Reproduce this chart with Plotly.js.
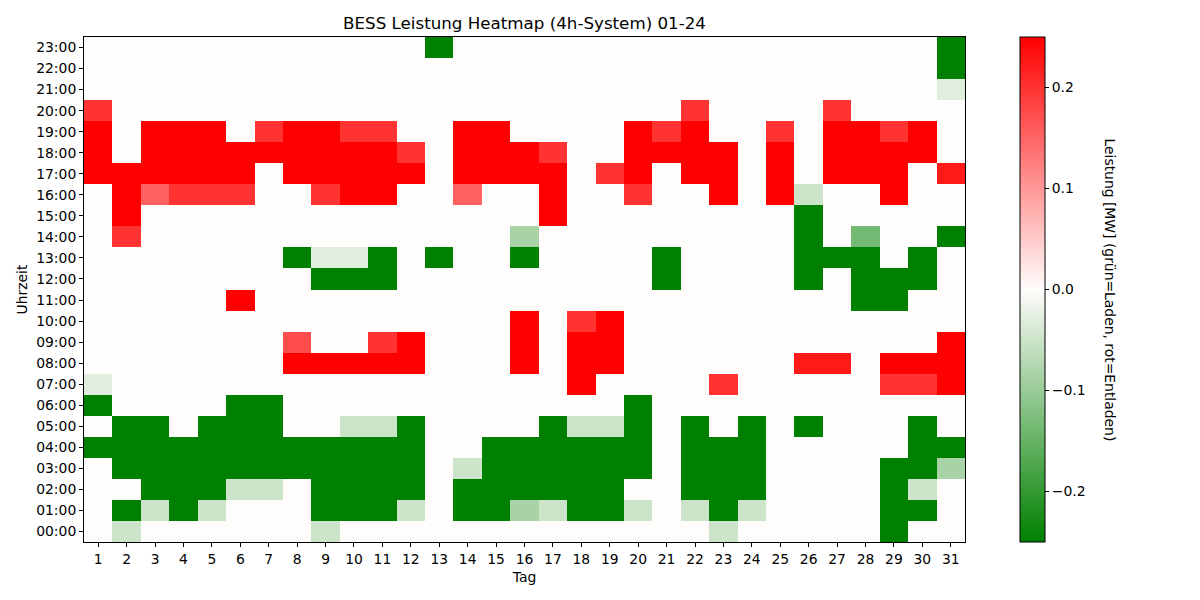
<!DOCTYPE html>
<html>
<head>
<meta charset="utf-8">
<script src="https://cdn.plot.ly/plotly-3.0.1.min.js"></script>
<style>
  html, body { margin: 0; padding: 0; background: #fff; }
  #chart { width: 1200px; height: 600px; }
</style>
</head>
<body>
<div id="chart"></div>
<script>
// Tage 1..31 und Stunden 00:00..23:00
const tage = [...Array(31).keys()].map(i => i + 1);
const stunden = [...Array(24).keys()];
const stundenLabels = stunden.map(h => String(h).padStart(2, '0') + ':00');

// Leistung [MW] je Stunde (Zeile) und Tag (Spalte), abgelesen
// positiv = Entladen (rot), negativ = Laden (grün)
const h00 = [0,-0.05,0,0,0,0,0,0,-0.05,0,0,0,0,0,0,0,0,0,0,0,0,0,-0.05,0,0,0,0,0,-0.25,0,0];
const h01 = [0,-0.25,-0.05,-0.25,-0.05,0,0,0,-0.25,-0.25,-0.25,-0.05,0,-0.25,-0.25,-0.085,-0.05,-0.25,-0.25,-0.05,0,-0.05,-0.25,-0.05,0,0,0,0,-0.25,-0.25,0];
const h02 = [0,0,-0.25,-0.25,-0.25,-0.05,-0.05,0,-0.25,-0.25,-0.25,-0.25,0,-0.25,-0.25,-0.25,-0.25,-0.25,-0.25,0,0,-0.25,-0.25,-0.25,0,0,0,0,-0.25,-0.05,0];
const h03 = [0,-0.25,-0.25,-0.25,-0.25,-0.25,-0.25,-0.25,-0.25,-0.25,-0.25,-0.25,0,-0.05,-0.25,-0.25,-0.25,-0.25,-0.25,-0.25,0,-0.25,-0.25,-0.25,0,0,0,0,-0.25,-0.25,-0.085];
const h04 = [-0.25,-0.25,-0.25,-0.25,-0.25,-0.25,-0.25,-0.25,-0.25,-0.25,-0.25,-0.25,0,0,-0.25,-0.25,-0.25,-0.25,-0.25,-0.25,0,-0.25,-0.25,-0.25,0,0,0,0,0,-0.25,-0.25];
const h05 = [0,-0.25,-0.25,0,-0.25,-0.25,-0.25,0,0,-0.05,-0.05,-0.25,0,0,0,0,-0.25,-0.05,-0.05,-0.25,0,-0.25,0,-0.25,0,-0.25,0,0,0,-0.25,0];
const h06 = [-0.25,0,0,0,0,-0.25,-0.25,0,0,0,0,0,0,0,0,0,0,0,0,-0.25,0,0,0,0,0,0,0,0,0,0,0];
const h07 = [-0.03,0,0,0,0,0,0,0,0,0,0,0,0,0,0,0,0,0.25,0,0,0,0,0.2,0,0,0,0,0,0.2,0.2,0.25];
const h08 = [0,0,0,0,0,0,0,0.25,0.25,0.25,0.25,0.25,0,0,0,0.25,0,0.25,0.25,0,0,0,0,0,0,0.225,0.225,0,0.25,0.25,0.25];
const h09 = [0,0,0,0,0,0,0,0.175,0,0,0.2,0.25,0,0,0,0.25,0,0.25,0.25,0,0,0,0,0,0,0,0,0,0,0,0.25];
const h10 = [0,0,0,0,0,0,0,0,0,0,0,0,0,0,0,0.25,0,0.2,0.25,0,0,0,0,0,0,0,0,0,0,0,0];
const h11 = [0,0,0,0,0,0.25,0,0,0,0,0,0,0,0,0,0,0,0,0,0,0,0,0,0,0,0,0,-0.25,-0.25,0,0];
const h12 = [0,0,0,0,0,0,0,0,-0.25,-0.25,-0.25,0,0,0,0,0,0,0,0,0,-0.25,0,0,0,0,-0.25,0,-0.25,-0.25,-0.25,0];
const h13 = [0,0,0,0,0,0,0,-0.25,-0.03,-0.03,-0.25,0,-0.25,0,0,-0.25,0,0,0,0,-0.25,0,0,0,0,-0.25,-0.25,-0.25,0,-0.25,0];
const h14 = [0,0.2,0,0,0,0,0,0,0,0,0,0,0,0,0,-0.085,0,0,0,0,0,0,0,0,0,-0.25,0,-0.135,0,0,-0.25];
const h15 = [0,0.25,0,0,0,0,0,0,0,0,0,0,0,0,0,0,0.25,0,0,0,0,0,0,0,0,-0.25,0,0,0,0,0];
const h16 = [0,0.25,0.155,0.2,0.2,0.2,0,0,0.2,0.25,0.25,0,0,0.155,0,0,0.25,0,0,0.2,0,0,0.25,0,0.25,-0.05,0,0,0.25,0,0];
const h17 = [0.25,0.25,0.25,0.25,0.25,0.25,0,0.25,0.25,0.25,0.25,0.25,0,0.25,0.25,0.25,0.25,0,0.2,0.25,0,0.25,0.25,0,0.25,0,0.25,0.25,0.25,0,0.225];
const h18 = [0.25,0,0.25,0.25,0.25,0.25,0.25,0.25,0.25,0.25,0.25,0.2,0,0.25,0.25,0.25,0.2,0,0,0.25,0.25,0.25,0.25,0,0.25,0,0.25,0.25,0.25,0.25,0];
const h19 = [0.25,0,0.25,0.25,0.25,0,0.2,0.25,0.25,0.2,0.2,0,0,0.25,0.25,0,0,0,0,0.25,0.2,0.25,0,0,0.2,0,0.25,0.25,0.2,0.25,0];
const h20 = [0.2,0,0,0,0,0,0,0,0,0,0,0,0,0,0,0,0,0,0,0,0,0.2,0,0,0,0,0.2,0,0,0,0];
const h21 = [0,0,0,0,0,0,0,0,0,0,0,0,0,0,0,0,0,0,0,0,0,0,0,0,0,0,0,0,0,0,-0.03];
const h22 = [0,0,0,0,0,0,0,0,0,0,0,0,0,0,0,0,0,0,0,0,0,0,0,0,0,0,0,0,0,0,-0.25];
const h23 = [0,0,0,0,0,0,0,0,0,0,0,0,-0.25,0,0,0,0,0,0,0,0,0,0,0,0,0,0,0,0,0,-0.25];

const leistung = [h00,h01,h02,h03,h04,h05,h06,h07,h08,h09,h10,h11,
                  h12,h13,h14,h15,h16,h17,h18,h19,h20,h21,h22,h23];

const schrift = {family: 'DejaVu Sans, sans-serif', size: 13.9, color: '#000'};

const trace = {
    type: 'heatmap',
    x: tage,
    y: stunden,
    z: leistung,
    zmin: -0.25,
    zmax: 0.25,
    colorscale: [[0, 'rgb(0,128,0)'], [0.5, 'rgb(255,253,252)'], [1, 'rgb(255,0,0)']],
    hoverongaps: false,
    xgap: 0, ygap: 0,
    colorbar: {
        x: 1.0624, xanchor: 'left', xref: 'paper',
        y: 0.5, yanchor: 'middle', len: 1, lenmode: 'fraction',
        thickness: 25, thicknessmode: 'pixels',
        outlinewidth: 1, outlinecolor: '#000',
        ticks: 'outside', ticklen: 4, tickwidth: 1, tickcolor: '#000',
        tickvals: [-0.2, -0.1, 0, 0.1, 0.2],
        tickformat: '.1f',
        tickfont: schrift,
        xpad: 0, ypad: 0
    }
};

const layout = {
    width: 1200,
    height: 600,
    paper_bgcolor: '#fff',
    plot_bgcolor: '#fff',
    font: schrift,
    margin: {l: 84, r: 235, t: 37, b: 58},
    title: {
        text: 'BESS Leistung Heatmap (4h-System) 01-24',
        font: {family: 'DejaVu Sans, sans-serif', size: 16.7, color: '#000'},
        x: 0.5, xref: 'paper', xanchor: 'center',
        y: 1 - 23 / 600, yref: 'container', yanchor: 'middle'
    },
    xaxis: {
        title: {text: 'Tag', font: schrift, standoff: 6},
        tickvals: tage,
        ticktext: tage.map(String),
        range: [0.5, 31.5],
        ticks: 'outside', ticklen: 4, tickwidth: 1, tickcolor: '#000',
        showline: true, mirror: true, linecolor: '#000', linewidth: 1,
        showgrid: false, zeroline: false,
        tickfont: schrift
    },
    yaxis: {
        title: {text: 'Uhrzeit', font: schrift, standoff: 5},
        tickvals: stunden,
        ticktext: stundenLabels,
        range: [-0.5, 23.5],
        ticks: 'outside', ticklen: 4, tickwidth: 1, tickcolor: '#000',
        showline: true, mirror: true, linecolor: '#000', linewidth: 1,
        showgrid: false, zeroline: false,
        tickfont: schrift
    },
    annotations: [{
        text: 'Leistung [MW] (grün=Laden, rot=Entladen)',
        xref: 'paper', yref: 'paper',
        x: (1110 - 84) / 881, y: 0.5,
        xanchor: 'center', yanchor: 'middle',
        textangle: 90,
        showarrow: false,
        font: schrift
    }]
};

Plotly.newPlot('chart', [trace], layout, {displayModeBar: false, staticPlot: true});
</script>
</body>
</html>
